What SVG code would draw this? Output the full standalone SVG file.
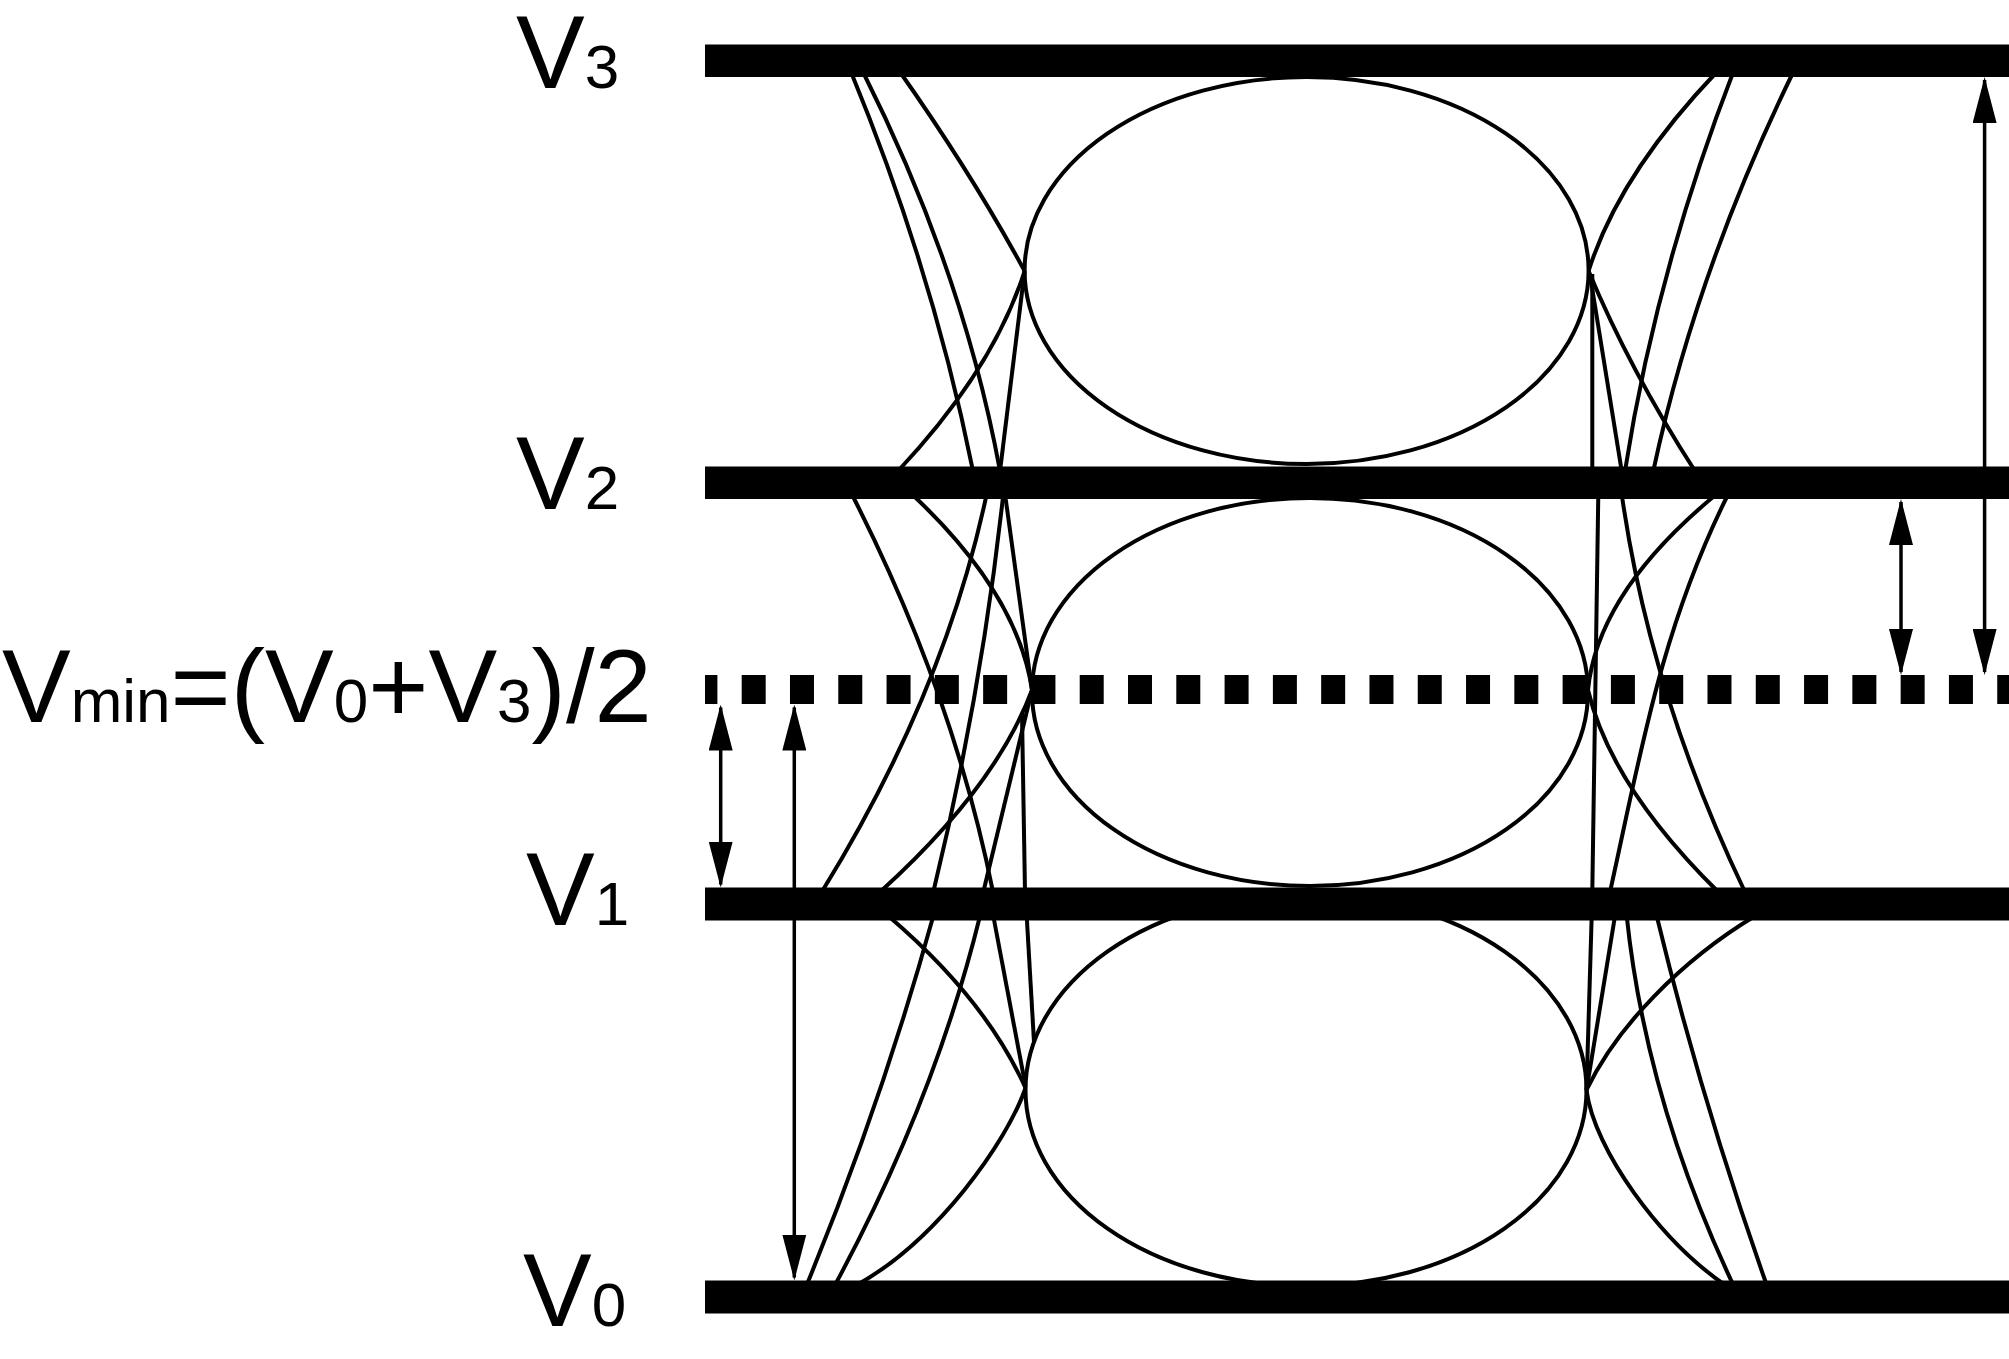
<svg xmlns="http://www.w3.org/2000/svg" width="2009" height="1359" viewBox="0 0 2009 1359">
<style>
.tr{fill:none;stroke:#000;stroke-width:4}
.eye{fill:none;stroke:#000;stroke-width:4}
.bar{fill:#000}
.dot{fill:none;stroke:#000;stroke-width:29;stroke-dasharray:24 24.29;stroke-dashoffset:11.6}
.arr{fill:none;stroke:#000;stroke-width:3.5;marker-start:url(#ah);marker-end:url(#ah)}
.lbl{font-family:"Liberation Sans",Arial,sans-serif;font-size:103px;fill:#000}
.sub{font-size:62px}
</style>
<defs>
<marker id="ah" viewBox="0 0 46 24" refX="43" refY="12" markerWidth="46" markerHeight="24" markerUnits="userSpaceOnUse" orient="auto-start-reverse">
<path d="M0,0 L46,12 L0,24 z" fill="#000"/>
</marker>
</defs>
<rect width="2009" height="1359" fill="#fff"/>

<g id="eyes">
<ellipse id="eye-top" class="eye" cx="1306.6" cy="270.5" rx="282" ry="193.5"/>
<ellipse id="eye-mid" class="eye" cx="1310" cy="692" rx="278" ry="194"/>
<ellipse id="eye-bot" class="eye" cx="1306" cy="1090" rx="280.5" ry="196"/>
</g>

<g id="connectors">
<!-- left crossing, top band -->
<path class="tr" d="M851,72 Q932.75,270.5 973,471"/>
<path class="tr" d="M863,72 Q963.35,271.5 1000,471"/>
<path class="tr" d="M900,72 Q972.5,175 1024.6,271"/>
<path class="tr" d="M898,471 Q993.5,369.5 1024.6,271"/>
<path class="tr" d="M1024.6,271 L1000,471"/>
<!-- left crossing, middle band -->
<path class="tr" d="M851.7,494 Q953.25,693 993,892"/>
<path class="tr" d="M911.7,494 Q1017.65,593 1032,690"/>
<path class="tr" d="M986.7,494 Q944.6,693 821.7,892"/>
<path class="tr" d="M1003.3,494 Q981.7,693 933.3,892"/>
<path class="tr" d="M1005,494 L1032,690"/>
<path class="tr" d="M1032,690 L983.3,892"/>
<path class="tr" d="M1022,714 L1025,892"/>
<path class="tr" d="M880,892 Q995.9,787 1032,690"/>
<!-- left crossing, bottom band -->
<path class="tr" d="M888.3,916 Q985.35,998.7 1025.5,1088"/>
<path class="tr" d="M933.3,916 Q882.4,1100.7 806.7,1285"/>
<path class="tr" d="M980,916 Q934.5,1100.7 835,1285"/>
<path class="tr" d="M993.3,916 L1025.5,1086"/>
<path class="tr" d="M1026.7,916 L1034,1042"/>
<path class="tr" d="M1025.5,1088 C1007,1142 936.7,1240.7 856.7,1285"/>
<!-- right crossing, top band -->
<path class="tr" d="M1716.7,72 Q1618.65,175 1588.6,271"/>
<path class="tr" d="M1733.3,72 Q1656.15,271.5 1625,471"/>
<path class="tr" d="M1793.3,72 Q1695.9,271.5 1653.3,471"/>
<path class="tr" d="M1592.3,274 L1592.3,471"/>
<path class="tr" d="M1590,275 Q1605,365 1621.7,471"/>
<path class="tr" d="M1588.6,271 Q1629.5,369.5 1695,471"/>
<!-- right crossing, middle band -->
<path class="tr" d="M1598.3,494 L1592.3,892"/>
<path class="tr" d="M1621.7,494 Q1649.95,693.15 1745,892"/>
<path class="tr" d="M1716.7,494 Q1597.5,592 1588,690"/>
<path class="tr" d="M1728.3,494 C1660.7,629 1639.9,757.3 1610,892"/>
<path class="tr" d="M1588,690 Q1610.7,786 1718.3,892"/>
<!-- right crossing, bottom band -->
<path class="tr" d="M1591.7,916 L1586.5,1090"/>
<path class="tr" d="M1615,916 L1586.5,1090"/>
<path class="tr" d="M1626.7,916 Q1646.2,1100.7 1733.3,1285"/>
<path class="tr" d="M1656.7,916 Q1701.5,1100.7 1766.7,1285"/>
<path class="tr" d="M1755,916 C1681,960.7 1616.7,1026.7 1586.5,1090"/>
<path class="tr" d="M1586.5,1090 C1594,1150 1660,1240 1725,1285"/>
</g>

<g id="levels">
<rect id="level-v3" class="bar" x="705" y="44.5" width="1304" height="32.5"/>
<rect id="level-v2" class="bar" x="705" y="466.5" width="1304" height="32.5"/>
<rect id="level-v1" class="bar" x="705" y="887.5" width="1304" height="33"/>
<rect id="level-v0" class="bar" x="705" y="1280.5" width="1304" height="33"/>
<line id="level-vmin" class="dot" x1="705" y1="689.5" x2="2009" y2="689.5"/>
</g>

<g id="arrows">
<line class="arr" x1="720.7" y1="707.5" x2="720.7" y2="884.5"/>
<line class="arr" x1="794.3" y1="707.5" x2="794.3" y2="1277.5"/>
<line class="arr" x1="1901" y1="502" x2="1901" y2="672"/>
<line class="arr" x1="1984.6" y1="80" x2="1984.6" y2="672"/>
</g>

<g id="labels">
<text id="label-v3" class="lbl" x="516" y="88">V<tspan class="sub">3</tspan></text>
<text id="label-v2" class="lbl" x="516" y="509">V<tspan class="sub">2</tspan></text>
<text id="label-vmin" class="lbl" x="2" y="722">V<tspan class="sub">min</tspan>=(V<tspan class="sub">0</tspan>+V<tspan class="sub">3</tspan>)/2</text>
<text id="label-v1" class="lbl" x="526" y="925">V<tspan class="sub">1</tspan></text>
<text id="label-v0" class="lbl" x="523" y="1326">V<tspan class="sub">0</tspan></text>
</g>
</svg>
